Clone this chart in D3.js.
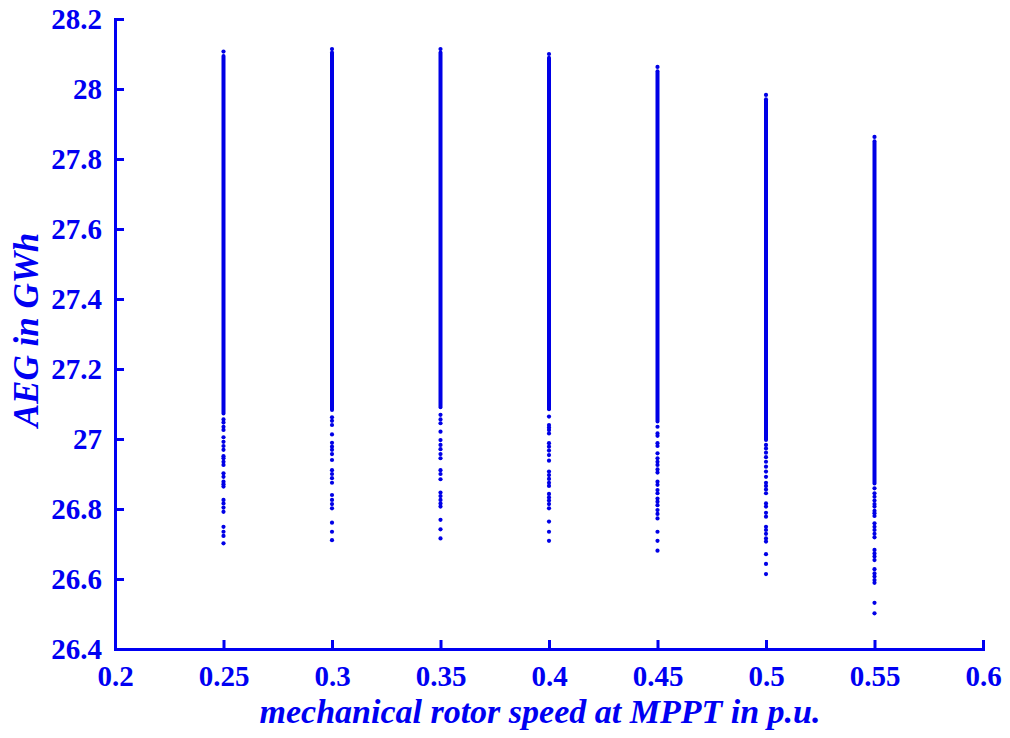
<!DOCTYPE html>
<html>
<head>
<meta charset="utf-8">
<script src="https://cdn.jsdelivr.net/npm/d3@7"></script>
<style>
  html, body { margin: 0; padding: 0; background: #ffffff; }
  svg { display: block; }
  svg text { font-family: "Liberation Serif", "Times New Roman", serif !important; font-weight: bold; }
</style>
</head>
<body>
<svg id="chart" width="1010" height="738"></svg>
<script>
// ---------------- data ----------------
const speeds = [0.25, 0.30, 0.35, 0.40, 0.45, 0.50, 0.55];

// highest isolated point of each column (GWh)
const aegMax = [28.107, 28.114, 28.114, 28.100, 28.063, 27.983, 27.863];
// dense band of overlapping points: upper and lower ends (GWh)
const denseHi = [28.094, 28.104, 28.104, 28.089, 28.051, 27.971, 27.851];
const denseLo = [27.073, 27.083, 27.091, 27.085, 27.050, 26.997, 26.873];

// individually visible points below the dense band (GWh)
const sparse025 = [27.056, 27.047, 27.035, 27.026, 27.005, 26.992, 26.980, 26.969, 26.951, 26.945,
  26.935, 26.926, 26.902, 26.892, 26.878, 26.871, 26.864, 26.826, 26.816, 26.804, 26.792, 26.749,
  26.735, 26.723, 26.702];
const sparse030 = [27.062, 27.052, 27.040, 27.013, 26.989, 26.978, 26.969, 26.957, 26.940, 26.911,
  26.900, 26.888, 26.875, 26.840, 26.826, 26.814, 26.802, 26.761, 26.735, 26.711];
const sparse035 = [27.069, 27.056, 27.045, 27.021, 26.997, 26.983, 26.971, 26.957, 26.945, 26.911,
  26.900, 26.885, 26.847, 26.837, 26.826, 26.816, 26.807, 26.769, 26.742, 26.716];
const sparse040 = [27.064, 27.040, 27.033, 27.026, 27.016, 26.988, 26.978, 26.967, 26.954, 26.938,
  26.907, 26.897, 26.886, 26.875, 26.866, 26.843, 26.833, 26.824, 26.814, 26.802, 26.764, 26.735,
  26.709];
const sparse045 = [27.035, 27.016, 27.009, 26.988, 26.980, 26.959, 26.945, 26.935, 26.926, 26.913,
  26.904, 26.878, 26.869, 26.854, 26.845, 26.830, 26.821, 26.811, 26.797, 26.786, 26.773, 26.735,
  26.709, 26.681];
const sparse050 = [26.983, 26.973, 26.961, 26.948, 26.935, 26.921, 26.907, 26.892, 26.875, 26.866,
  26.856, 26.845, 26.816, 26.807, 26.789, 26.778, 26.749, 26.740, 26.729, 26.716, 26.707, 26.671,
  26.643, 26.614];
const sparse055 = [26.859, 26.845, 26.835, 26.824, 26.814, 26.807, 26.795, 26.788, 26.780, 26.759,
  26.749, 26.740, 26.729, 26.719, 26.683, 26.673, 26.664, 26.654, 26.628, 26.616, 26.607, 26.597,
  26.589, 26.532, 26.502];
const sparseSets = [sparse025, sparse030, sparse035, sparse040, sparse045, sparse050, sparse055];

const xTicks = [0.2, 0.25, 0.3, 0.35, 0.4, 0.45, 0.5, 0.55, 0.6];
const yTicks = [26.4, 26.6, 26.8, 27, 27.2, 27.4, 27.6, 27.8, 28, 28.2];
const xLabel = "mechanical rotor speed at MPPT in p.u.";
const yLabel = "AEG in GWh";

// ---------------- drawing ----------------
const BLUE = "#0000f2";
const DOT = "#0000e6";
const FONT = "'Liberation Serif', 'Times New Roman', serif";
const svg = d3.select("#chart");

const x = d3.scaleLinear().domain([0.2, 0.6]).range([115, 983]);
const y = d3.scaleLinear().domain([26.4, 28.2]).range([649, 19]);
const fmt = v => String(+v.toFixed(2));

// points
const pts = [];
speeds.forEach((s, i) => {
  pts.push({ s, v: aegMax[i] });
  sparseSets[i].forEach(v => pts.push({ s, v }));
});
const band = speeds.map((s, i) => ({ s, lo: denseLo[i], hi: denseHi[i] }));

const plot = svg.append("g");
plot.selectAll("line.band").data(band).join("line")
  .attr("class", "band")
  .attr("x1", d => x(d.s)).attr("x2", d => x(d.s))
  .attr("y1", d => y(d.hi)).attr("y2", d => y(d.lo))
  .attr("stroke", DOT).attr("stroke-width", 4).attr("stroke-linecap", "round");
plot.selectAll("circle").data(pts).join("circle")
  .attr("cx", d => x(d.s)).attr("cy", d => y(d.v))
  .attr("r", 2.1).attr("fill", DOT);

// axes
const xAxis = d3.axisBottom(x).tickValues(xTicks).tickFormat(fmt)
  .tickSizeInner(-9).tickSizeOuter(0).tickPadding(16);
const yAxis = d3.axisLeft(y).tickValues(yTicks).tickFormat(fmt)
  .tickSizeInner(-9).tickSizeOuter(0).tickPadding(13);

const gx = svg.append("g").attr("transform", `translate(0,${y(26.4)})`).call(xAxis);
const gy = svg.append("g").attr("transform", `translate(${x(0.2)},0)`).call(yAxis);

[gx, gy].forEach(g => {
  g.attr("font-family", FONT).attr("font-weight", "bold").attr("font-size", 29);
  g.select(".domain").attr("stroke", BLUE).attr("stroke-width", 3).attr("stroke-linecap", "square");
  g.selectAll(".tick line").attr("stroke", BLUE).attr("stroke-width", 3);
  g.selectAll(".tick text").attr("fill", BLUE).attr("font-size", 29)
    .attr("font-family", FONT).attr("font-weight", "bold");
});

// axis titles
svg.append("text")
  .attr("x", 540).attr("y", 723)
  .attr("text-anchor", "middle")
  .attr("font-family", FONT)
  .attr("font-weight", "bold").attr("font-style", "italic")
  .attr("font-size", 34).attr("fill", BLUE)
  .text(xLabel);

svg.append("text")
  .attr("transform", "translate(38,330) rotate(-90)")
  .attr("text-anchor", "middle")
  .attr("font-family", FONT)
  .attr("font-weight", "bold").attr("font-style", "italic")
  .attr("font-size", 35).attr("fill", BLUE)
  .text(yLabel);
</script>
</body>
</html>
